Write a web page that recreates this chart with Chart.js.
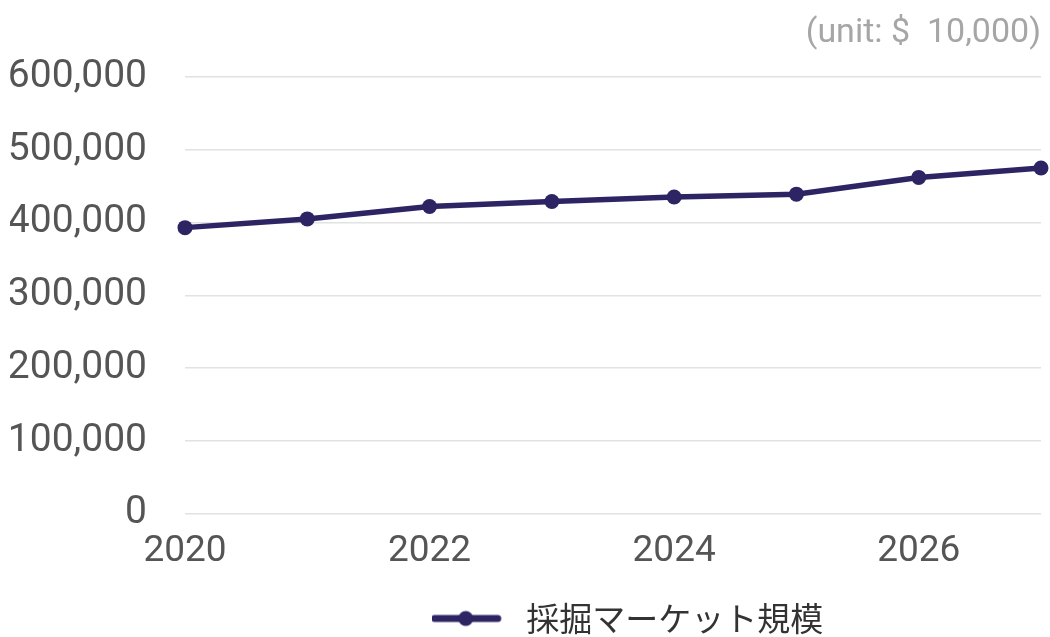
<!DOCTYPE html>
<html>
<head>
<meta charset="utf-8">
<script src="https://cdn.jsdelivr.net/npm/chart.js@4/dist/chart.umd.min.js"></script>
<style>
html,body{margin:0;padding:0;background:#fff;}
#wrap{width:1050px;height:637px;position:relative;}
</style>
</head>
<body>
<div id="wrap"><canvas id="c" width="1050" height="637"></canvas></div>
<script>
const years = [2020, 2021, 2022, 2023, 2024, 2025, 2026, 2027];
const marketSize = [393000, 405000, 422000, 429000, 435000, 439000, 462000, 475000];
const seriesName = '採掘マーケット規模';
const unitText = '(unit: $  10,000)';
const xTickValues = [2020, 2022, 2024, 2026];
const yTickValues = [0, 100000, 200000, 300000, 400000, 500000, 600000];

const lineColor = '#2d2463';

// legend marker: line with dot
const mk = document.createElement('canvas');
mk.width = 78; mk.height = 18;
const mctx = mk.getContext('2d');
mctx.strokeStyle = lineColor; mctx.lineWidth = 7; mctx.lineCap = 'round';
mctx.beginPath(); mctx.moveTo(3, 9); mctx.lineTo(66, 9); mctx.stroke();
mctx.fillStyle = lineColor;
mctx.beginPath(); mctx.arc(34, 9, 7.5, 0, Math.PI * 2); mctx.fill();

const legendShift = {
  id: 'legendShift',
  afterLayout(chart) {
    const lg = chart.legend;
    if (!lg) return;
    const dx = 102, dy = 16;
    lg.left += dx; lg.right += dx;
    lg.top += dy; lg.bottom += dy;
  }
};

new Chart(document.getElementById('c'), {
  type: 'line',
  data: {
    datasets: [{
      label: seriesName,
      data: years.map((y, i) => ({x: y, y: marketSize[i]})),
      borderColor: lineColor,
      backgroundColor: lineColor,
      borderWidth: 5.5,
      pointRadius: 7.5,
      pointBackgroundColor: lineColor,
      pointBorderWidth: 0,
      tension: 0,
      clip: false
    }]
  },
  plugins: [legendShift],
  options: {
    responsive: false,
    animation: false,
    layout: { padding: { left: 10, right: 9, top: 8, bottom: 8 } },
    plugins: {
      title: {
        display: true,
        text: unitText,
        align: 'end',
        color: '#a6a6a6',
        font: { family: 'Roboto', size: 34, weight: 'normal' },
        padding: { top: 5, bottom: 23.2 }
      },
      legend: {
        display: true,
        position: 'bottom',
        labels: {
          usePointStyle: true,
          pointStyle: mk,
          pointStyleWidth: 78,
          color: '#333',
          font: { family: '"Noto Sans CJK JP", Roboto', size: 33 },
          padding: 4
        }
      },
      tooltip: { enabled: false }
    },
    scales: {
      x: {
        type: 'linear',
        min: 2020,
        max: 2027,
        afterBuildTicks: s => { s.ticks = xTickValues.map(v => ({value: v})); },
        grid: { display: false },
        border: { display: false },
        ticks: {
          color: '#555',
          font: { family: 'Roboto', size: 37 },
          padding: 8,
          maxRotation: 0,
          callback: v => String(v)
        }
      },
      y: {
        min: 0,
        max: 600000,
        afterBuildTicks: s => { s.ticks = yTickValues.map(v => ({value: v})); },
        afterFit: s => { s.width = 175; },
        grid: { color: '#e2e2e2', lineWidth: 1.5, drawTicks: false },
        border: { display: false },
        ticks: {
          color: '#555',
          font: { family: 'Roboto', size: 39 },
          padding: 38,
          callback: v => v.toLocaleString('en-US')
        }
      }
    }
  }
});
</script>
</body>
</html>
